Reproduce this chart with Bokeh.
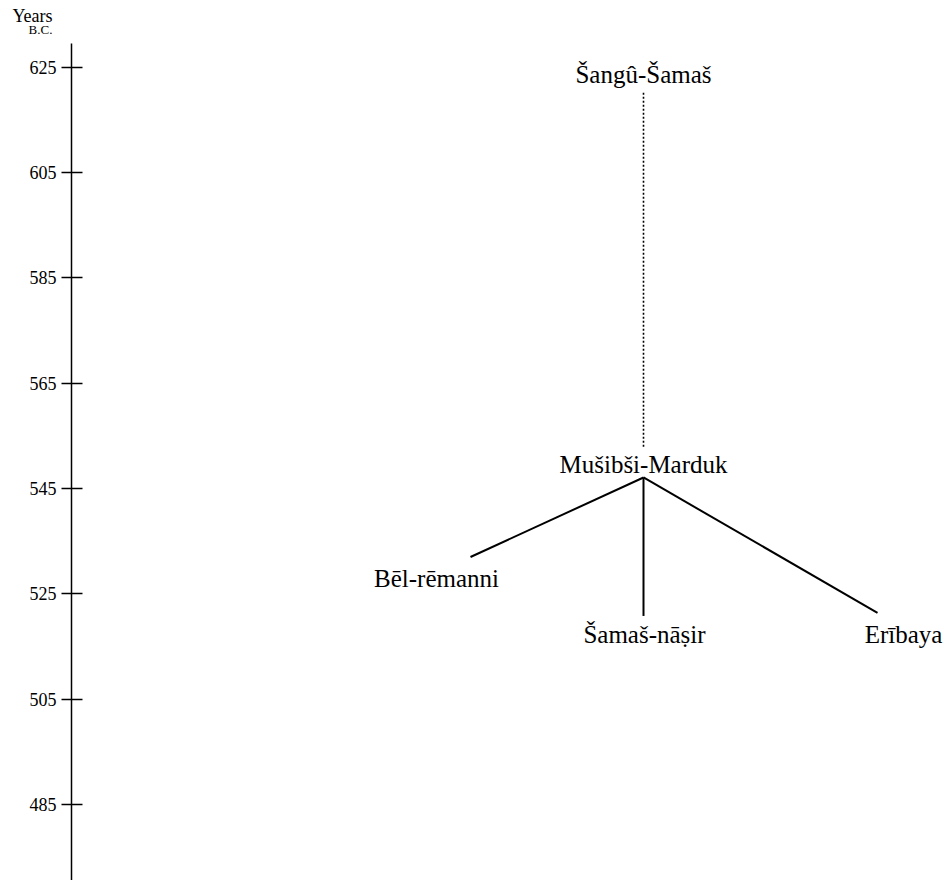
from bokeh.plotting import figure
from bokeh.models import Range1d, LinearAxis, FixedTicker
from bokeh.core.properties import value
from bokeh.embed import file_html
from bokeh.resources import INLINE

# ---- data ----
year_ticks = [485, 505, 525, 545, 565, 585, 605, 625]
names = ["Šangû-Šamaš", "Mušibši-Marduk", "Bēl-rēmanni", "Šamaš-nāṣir", "Erībaya"]
name_x = [643, 643, 436, 644, 903]
name_y = [623.6, 549.5, 527.9, 517.2, 517.2]

# dotted (uncertain) descent
dot_x0 = [643]
dot_y0 = [620.2]
dot_x1 = [643]
dot_y1 = [552.6]

# solid descent lines from Mušibši-Marduk to his sons
son_x0 = [643, 643, 643]
son_y0 = [547.1, 547.1, 547.1]
son_x1 = [470, 643, 877]
son_y1 = [532.0, 520.8, 521.4]

# axis heading
head_text = ["Years", "B.C."]
head_x = [32, 40]
head_y = [634.8, 632.1]
head_size = ["18px", "13px"]

axis_x = 71
axis_top = 629.6

FONT = "Liberation Serif"

p = figure(width=944, height=880, output_backend="svg", toolbar_location=None,
           x_range=Range1d(0, 944), y_range=Range1d(470.55, 637.7),
           x_axis_type=None, y_axis_type=None,
           min_border=0, min_border_left=0, min_border_right=0,
           min_border_top=0, min_border_bottom=0)
p.outline_line_color = None
p.xgrid.visible = False
p.ygrid.visible = False
p.background_fill_color = "white"
p.border_fill_color = "white"

yax = LinearAxis(ticker=FixedTicker(ticks=year_ticks), bounds=(470.55, axis_top),
                 fixed_location=axis_x)
yax.axis_line_color = "black"
yax.axis_line_width = 1.5
yax.major_tick_line_color = "black"
yax.major_tick_line_width = 1.3
yax.major_tick_in = 11
yax.major_tick_out = 10
yax.minor_tick_line_color = None
yax.major_label_text_font = FONT
yax.major_label_text_font_size = "18px"
yax.major_label_text_color = "black"
yax.major_label_standoff = 5
p.add_layout(yax, "left")

p.segment(x0=dot_x0, y0=dot_y0, x1=dot_x1, y1=dot_y1,
          line_color="black", line_width=1.6, line_dash="2 2")
p.segment(x0=son_x0, y0=son_y0, x1=son_x1, y1=son_y1,
          line_color="black", line_width=2)

p.text(x=name_x, y=name_y, text=names, text_font=value(FONT),
       text_font_size="25px", text_align="center", text_baseline="middle",
       text_color="black")

p.text(x=head_x, y=head_y, text=head_text, text_font=value(FONT),
       text_font_size=head_size, text_align="center", text_baseline="middle",
       text_color="black")

open("out.html", "w").write(file_html(p, INLINE))
